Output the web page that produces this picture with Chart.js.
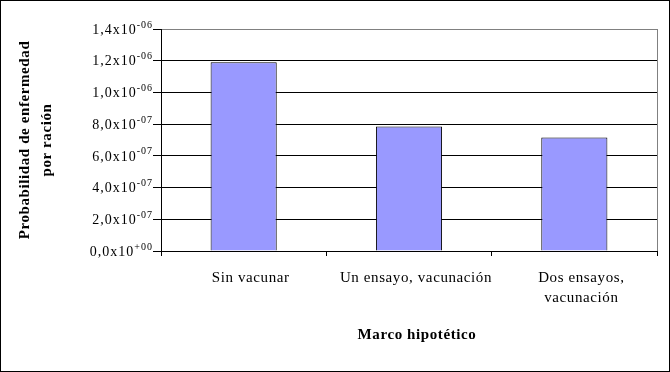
<!DOCTYPE html>
<html>
<head>
<meta charset="utf-8">
<script src="https://cdn.jsdelivr.net/npm/chart.js@4"></script>
<style>
html, body { margin: 0; padding: 0; background: #fff; }
#wrap { width: 670px; height: 372px; box-sizing: border-box; border: 1px solid #000; }
canvas { display: block; }
</style>
</head>
<body>
<div id="wrap"><canvas id="chart" width="668" height="370"></canvas></div>
<script>
// Chart data
const categories = ['Sin vacunar', 'Un ensayo, vacunación', ['Dos ensayos,', 'vacunación']];
const probabilities = [1.19e-6, 7.85e-7, 7.15e-7];
const yMin = 0;
const yMax = 1.4e-6;
const yStep = 2e-7;
const yTitle = ['Probabilidad de enfermedad', 'por ración'];
const xTitle = 'Marco hipotético';

Chart.defaults.font.family = '"Liberation Serif", "Times New Roman", serif';
Chart.defaults.color = '#000';

// "1,4x10^-06" style tick text
function splitSci(v) {
    if (Math.abs(v) < 1e-15) return ['0,0', '+00'];
    const [mant, exp] = v.toExponential(1).split('e');
    const sign = exp[0] === '-' ? '-' : '+';
    const digits = exp.replace(/^[+-]/, '').padStart(2, '0');
    return [mant.replace('.', ','), sign + digits];
}

// Wider letter spacing like the original rendering
const spacing = {
    id: 'spacing',
    beforeDraw(chart) {
        chart.ctx.letterSpacing = '0.6px';
    }
};

// Draw y tick labels with superscript exponent, and the x title
const extraText = {
    id: 'extraText',
    afterDraw(chart) {
        const ctx = chart.ctx;
        const y = chart.scales.y;
        const x = chart.scales.x;
        ctx.save();
        ctx.fillStyle = '#000';
        ctx.textAlign = 'right';
        ctx.textBaseline = 'middle';
        ctx.letterSpacing = '1px';
        y.ticks.forEach((t) => {
            const py = y.getPixelForValue(t.value);
            const [m, e] = splitSci(t.value);
            const right = y.right - 8;
            ctx.font = '10px "Liberation Serif"';
            const ew = ctx.measureText(e).width;
            ctx.fillText(e, right, py - 4);
            ctx.font = '14px "Liberation Serif"';
            ctx.fillText(m + 'x10', right - ew, py + 1);
        });

        // x axis title (slightly right of centre, as in the original)
        ctx.letterSpacing = '0.6px';
        ctx.textAlign = 'center';
        ctx.font = 'bold 15px "Liberation Serif"';
        ctx.fillText(xTitle, (x.left + x.right) / 2 + 8, x.bottom - 9);
        ctx.restore();
    }
};

// Gray right edge of the plot area
const plotEdge = {
    id: 'plotEdge',
    beforeDatasetsDraw(chart) {
        const { ctx, chartArea } = chart;
        ctx.save();
        ctx.strokeStyle = '#808080';
        ctx.lineWidth = 1;
        ctx.beginPath();
        ctx.moveTo(Math.round(chartArea.right) + 0.5, chartArea.top);
        ctx.lineTo(Math.round(chartArea.right) + 0.5, chartArea.bottom);
        ctx.stroke();
        ctx.restore();
    }
};

new Chart(document.getElementById('chart'), {
    type: 'bar',
    data: {
        labels: categories,
        datasets: [{
            data: probabilities,
            backgroundColor: '#9999FF',
            borderColor: '#000',
            borderWidth: 1,
            barPercentage: 0.8,
            categoryPercentage: 0.5
        }]
    },
    options: {
        responsive: false,
        animation: false,
        layout: { padding: { top: 28, right: 12, bottom: 27, left: 0 } },
        plugins: {
            legend: { display: false },
            tooltip: { enabled: false }
        },
        scales: {
            x: {
                grid: { drawOnChartArea: false, drawTicks: true, tickLength: 5, color: '#000', offset: true },
                border: { color: '#000' },
                ticks: { font: { size: 15, lineHeight: 20 / 15 }, padding: 12, labelOffset: 7, maxRotation: 0, autoSkip: false },
                title: { display: false },
                afterFit(s) { s.height = 93; }
            },
            y: {
                min: yMin,
                max: yMax,
                ticks: { display: false, stepSize: yStep },
                grid: {
                    color: (c) => (c.tick && c.tick.value >= yMax - 1e-12 ? '#808080' : '#000'),
                    tickColor: '#000',
                    tickLength: 8
                },
                border: { color: '#000' },
                title: {
                    display: true,
                    text: yTitle,
                    font: { size: 15, weight: 'bold', lineHeight: 22 / 15 },
                    padding: { top: 13, bottom: 0 }
                },
                afterFit(s) { s.width = 160; }
            }
        }
    },
    plugins: [spacing, extraText, plotEdge]
});
</script>
</body>
</html>
